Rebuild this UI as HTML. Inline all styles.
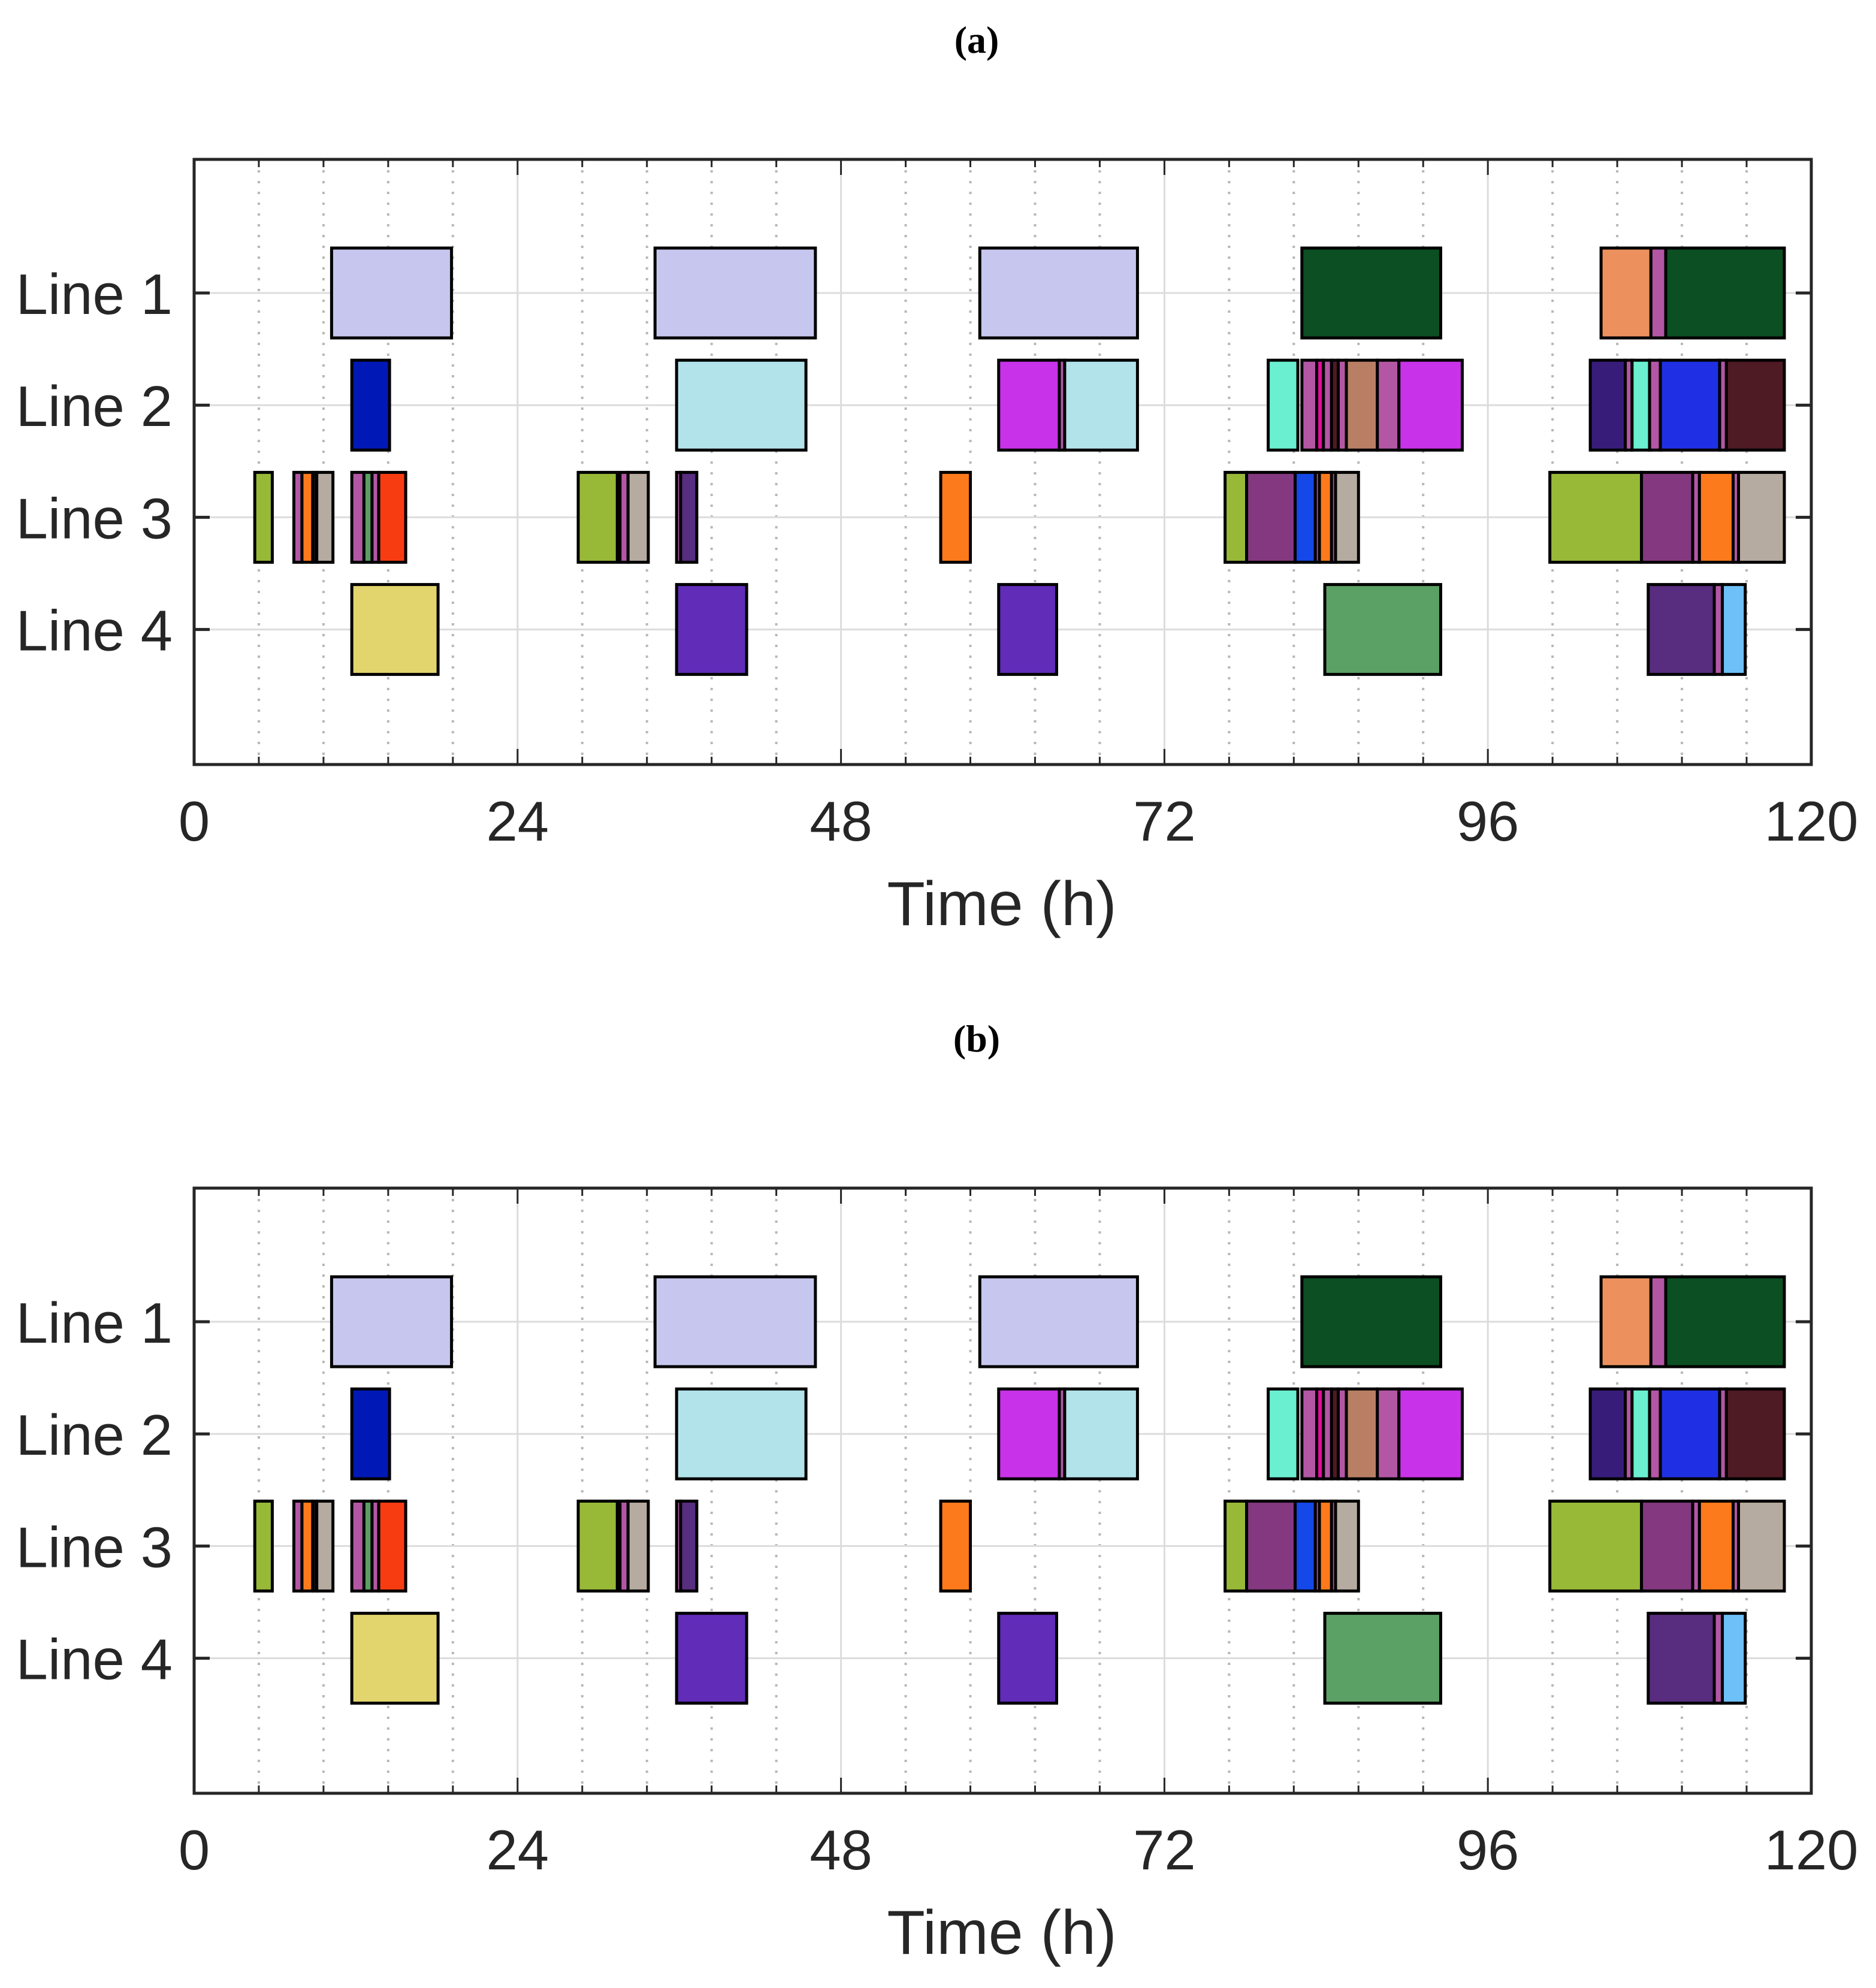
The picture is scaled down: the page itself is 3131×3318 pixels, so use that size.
<!DOCTYPE html>
<html><head><meta charset="utf-8"><style>
html,body{margin:0;padding:0;background:#fff;}
svg{display:block;}
text{font-family:"Liberation Sans",Arial,sans-serif;fill:#262626;}
.ttl{font-family:"Liberation Serif",serif;font-weight:bold;fill:#000;}
</style></head><body>
<svg id="chart" width="3131" height="3318" viewBox="0 0 3131 3318" xmlns="http://www.w3.org/2000/svg">
<text class="ttl" x="1630" y="88" font-size="64" text-anchor="middle">(a)</text>
<text class="ttl" x="1630" y="1755" font-size="64" text-anchor="middle">(b)</text>
</svg>
<script>
const lineLabels = ["Line 1","Line 2","Line 3","Line 4"];
const xTicks = [0,24,48,72,96,120];
const segLine = [
 1,1,1,1,1,1,1,
 2,2,2,2,2,2,2, 2,2,2,2,2,2,2, 2,2,2,2,2,2,2,
 3,3,3,3,3,3,3, 3,3,3,3,3,3,3, 3,3,3,3,3,3,3, 3,3,3,3,3,3,3,
 4,4,4,4,4,4,4
];
const segStart = [
 10.2,34.2,58.3,82.2,104.4,108.1,109.2,
 11.7,35.8,59.7,64.2,64.6,79.7,82.2,83.3,83.8,84.4,84.9,85.5,87.8,89.4,103.6,106.2,106.7,108.0,108.8,113.2,113.7,
 4.5,7.4,8.0,8.8,9.1,11.7,12.6,13.2,13.7,28.5,31.6,32.2,35.8,36.1,55.4,76.5,78.1,81.7,83.2,83.5,84.4,84.7,100.6,107.4,111.2,111.7,114.2,114.6,
 11.7,35.8,59.7,83.9,107.9,112.8,113.4
];
const segEnd = [
 19.1,46.1,70.0,92.5,108.1,109.2,118.0,
 14.5,45.4,64.2,64.6,70.0,81.9,83.3,83.8,84.4,84.9,85.5,87.8,89.4,94.1,106.2,106.7,108.0,108.8,113.2,113.7,118.0,
 5.8,8.0,8.8,9.1,10.3,12.6,13.2,13.7,15.7,31.4,32.2,33.7,36.1,37.3,57.6,78.1,81.7,83.2,83.5,84.4,84.7,86.4,107.4,111.2,111.7,114.2,114.6,118.0,
 18.1,41.0,64.0,92.5,112.8,113.4,115.1
];
const segColor = [
 "#c6c6ee","#c6c6ee","#c6c6ee","#0b4f22","#ec915e","#b357a5","#0b4f22",
 "#0019b6","#b2e3ea","#c832e8","#b357a5","#b2e3ea","#6aefd0","#b357a5","#e0109c","#b357a5","#4f1a24","#b357a5","#b97f64","#b357a5","#c832e8","#381c7a","#b357a5","#6aefd0","#b357a5","#1f30e4","#b357a5","#4e1a24",
 "#97b937","#b357a5","#fd7a1c","#111111","#b6aba0","#b357a5","#5a9e66","#b357a5","#f83c12","#97b937","#b357a5","#b6aba0","#b357a5","#572e80","#fd7a1c","#97b937","#843880","#1548e8","#b357a5","#fd7a1c","#b357a5","#b6aba0","#97b937","#843880","#b357a5","#fd7a1c","#b357a5","#b6aba0",
 "#e2d56e","#602cb8","#602cb8","#5ba064","#582c7e","#b357a5","#6ec0f8"
];

const NS="http://www.w3.org/2000/svg";
const svg=document.getElementById('chart');
const L=324,R=3023,H=1010;
function xs(h){return L+(h/120)*(R-L);}
function mk(tag,attrs,parent){const e=document.createElementNS(NS,tag);for(const k in attrs)e.setAttribute(k,attrs[k]);(parent||svg).appendChild(e);return e;}

function panel(top,tag){
 const g=mk('g',{});
 
 
 const bot=top+H;
 const yl=k=>top+223+(k-1)*187.2;
 for(let h=4.8;h<120;h+=4.8){
  if(Math.abs(h/24-Math.round(h/24))<0.01)continue;
  const l=mk('line',{x1:xs(h),x2:xs(h),y1:top,y2:bot,stroke:'#b8b8b8','stroke-width':4,'stroke-dasharray':'4 14'},g);
  
  
 }
 xTicks.forEach(h=>{ if(h>0&&h<120){
  const l=mk('line',{x1:xs(h),x2:xs(h),y1:top,y2:bot,stroke:'#dcdcdc','stroke-width':3},g);
  
  
 }});
 lineLabels.forEach((s,i)=>{
  const l=mk('line',{x1:L,x2:R,y1:yl(i+1),y2:yl(i+1),stroke:'#dcdcdc','stroke-width':3},g);
  
  
 });
 for(let i=0;i<segStart.length;i++){
  const c=yl(segLine[i]);
  const r=mk('rect',{x:xs(segStart[i]),y:c-75,width:xs(segEnd[i])-xs(segStart[i]),height:150,fill:segColor[i],stroke:'#000','stroke-width':5},g);
  
  
 }
 const b=mk('rect',{x:L,y:top,width:R-L,height:H,fill:'none',stroke:'#262626','stroke-width':5},g);
 
 
 lineLabels.forEach((s,i)=>{
  const y=yl(i+1);
  mk('line',{x1:L,x2:L+26,y1:y,y2:y,stroke:'#262626','stroke-width':5},g);
  mk('line',{x1:R-26,x2:R,y1:y,y2:y,stroke:'#262626','stroke-width':5},g);
  const t=mk('text',{x:288,y:y+35,'font-size':96,'text-anchor':'end'},g);
  t.textContent=s;
  
  
 });
 for(let h=4.8;h<120;h+=4.8){
  const major=Math.abs(h/24-Math.round(h/24))<0.01;
  const len=major?26:13;
  mk('line',{x1:xs(h),x2:xs(h),y1:bot,y2:bot-len,stroke:'#262626','stroke-width':3},g);
  mk('line',{x1:xs(h),x2:xs(h),y1:top,y2:top+len,stroke:'#262626','stroke-width':3},g);
 }
 xTicks.forEach(h=>{
  const t=mk('text',{x:xs(h),y:bot+127,'font-size':94,'text-anchor':'middle'},g);
  t.textContent=String(h);
  
  
 });
 const xt=mk('text',{x:1672,y:bot+268,'font-size':104,'text-anchor':'middle'},g);
 xt.textContent='Time (h)';
 
 
}
panel(266,'a');
panel(1983,'b');
</script>
</body></html>
